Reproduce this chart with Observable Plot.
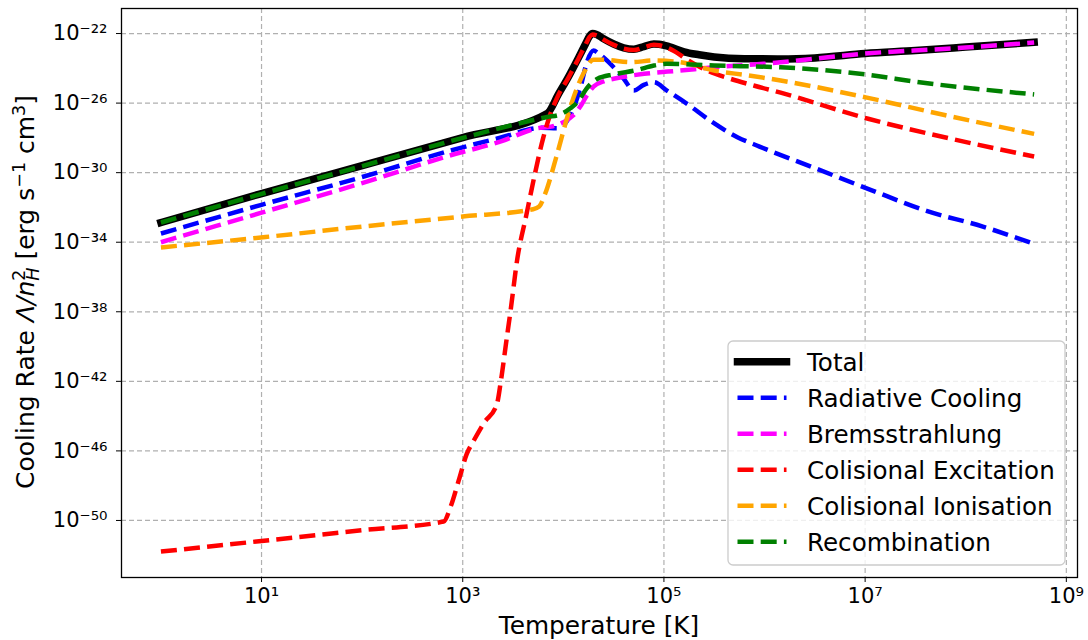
<!DOCTYPE html>
<html>
<head>
<meta charset="utf-8">
<script src="https://cdn.jsdelivr.net/npm/d3@7"></script>
<script src="https://cdn.jsdelivr.net/npm/@observablehq/plot@0.6"></script>
<style>
  html, body { margin: 0; padding: 0; background: #fff; }
  #chart { width: 1088px; height: 640px; }
</style>
</head>
<body>
<div id="chart"></div>
<script>
// ---- Data (log10 values) ----
const seriesNames = ["Total", "Radiative Cooling", "Bremsstrahlung", "Colisional Excitation", "Colisional Ionisation", "Recombination"];
const seriesColors = ["black", "#0000ff", "#ff00ff", "#ff0000", "#ffa500", "#008000"];

const totalLogT = [0, 1, 2, 3, 3.84, 3.95, 4.05, 4.15, 4.22, 4.26, 4.29, 4.33, 4.4, 4.5, 4.6, 4.7, 4.8, 4.9, 4.95, 5.05, 5.2, 5.35, 5.5, 5.8, 6.16, 6.5, 7, 7.5, 8, 8.68];
const totalLogL = [-32.87, -31.2, -29.6, -27.98, -26.6, -25.5, -24.5, -23.4, -22.6, -22.15, -22.0, -22.05, -22.3, -22.6, -22.82, -22.9, -22.75, -22.6, -22.62, -22.75, -23.05, -23.22, -23.35, -23.45, -23.46, -23.4, -23.15, -22.98, -22.78, -22.5];

const radiativeLogT = [0, 1, 2, 2.88, 3.38, 3.78, 3.94, 4.05, 4.12, 4.17, 4.24, 4.30, 4.36, 4.5, 4.6, 4.70, 4.8, 4.9, 5.03, 5.23, 5.47, 5.73, 5.95, 6.51, 7.06, 7.61, 8.17, 8.68];
const radiativeLogL = [-33.5, -31.85, -30.25, -28.73, -27.98, -27.42, -27.44, -26.9, -26.0, -25.09, -23.55, -22.98, -23.2, -23.94, -24.6, -25.28, -24.95, -24.8, -25.28, -26.04, -27.05, -27.96, -28.5, -29.76, -31.0, -32.2, -33.1, -34.1];

const bremsLogT = [0, 1, 2, 2.88, 3.38, 3.74, 3.88, 4.0, 4.1, 4.18, 4.24, 4.3, 4.4, 4.5, 4.83, 5.16, 5.5, 5.99, 6.16, 7, 7.85, 8.68];
const bremsLogL = [-34.0, -32.3, -30.6, -29.0, -28.2, -27.45, -27.35, -27.1, -26.7, -26.1, -25.5, -25.05, -24.75, -24.6, -24.3, -24.13, -23.94, -23.74, -23.65, -23.15, -22.86, -22.52];

const excitationLogT = [0, 1, 2, 2.81, 2.88, 2.96, 3.04, 3.11, 3.21, 3.34, 3.38, 3.43, 3.48, 3.54, 3.63, 3.72, 3.8, 3.85, 3.95, 4.05, 4.15, 4.22, 4.26, 4.29, 4.33, 4.4, 4.5, 4.6, 4.7, 4.8, 4.9, 4.95, 5.0, 5.1, 5.23, 5.43, 5.66, 5.9, 6.16, 7.03, 7.8, 8.68];
const excitationLogL = [-51.79, -51.18, -50.56, -50.06, -49.2, -47.7, -46.17, -45.4, -44.4, -43.3, -41.95, -39.84, -37.74, -35.05, -32.5, -30.0, -28.0, -27.0, -25.55, -24.55, -23.45, -22.65, -22.2, -22.05, -22.1, -22.35, -22.65, -22.87, -22.95, -22.8, -22.65, -22.67, -22.75, -23.0, -23.5, -24.13, -24.6, -25.0, -25.4, -26.9, -27.98, -29.07];

const ionisationLogT = [0, 1.04, 2, 3, 3.7, 3.76, 3.82, 3.93, 4.04, 4.1, 4.2, 4.3, 4.4, 4.67, 4.9, 5.16, 5.5, 5.83, 6.16, 7.03, 7.8, 8.68];
const ionisationLogL = [-34.3, -33.7, -33.1, -32.52, -32.1, -31.95, -31.2, -29.1, -26.8, -25.7, -24.3, -23.5, -23.5, -23.65, -23.55, -23.65, -24.13, -24.4, -24.7, -25.7, -26.7, -27.77];

const recombLogT = [0, 1, 2, 3, 3.84, 3.97, 4.07, 4.14, 4.24, 4.34, 4.5, 4.73, 4.9, 5.03, 5.5, 6.16, 7, 7.54, 8.68];
const recombLogL = [-32.87, -31.22, -29.62, -28.0, -26.8, -26.65, -26.3, -25.95, -25.1, -24.6, -24.35, -24.1, -23.84, -23.74, -23.84, -23.94, -24.35, -24.8, -25.5];

const xTicks = [1e1, 1e3, 1e5, 1e7, 1e9];
const yTicks = [1e-22, 1e-26, 1e-30, 1e-34, 1e-38, 1e-42, 1e-46, 1e-50];

// ---- Build ----
const toPoints = (lt, ll) => lt.map((t, i) => ({T: Math.pow(10, t), L: Math.pow(10, ll[i])}));
const seriesData = [
  toPoints(totalLogT, totalLogL),
  toPoints(radiativeLogT, radiativeLogL),
  toPoints(bremsLogT, bremsLogL),
  toPoints(excitationLogT, excitationLogL),
  toPoints(ionisationLogT, ionisationLogL),
  toPoints(recombLogT, recombLogL)
];

const supMap = {"-": "\u207B", "0": "\u2070", "1": "\u00B9", "2": "\u00B2", "3": "\u00B3", "4": "\u2074", "5": "\u2075", "6": "\u2076", "7": "\u2077", "8": "\u2078", "9": "\u2079"};
const fmt = v => "10" + String(Math.round(Math.log10(v))).split("").map(c => supMap[c]).join("");

const DASH = "16,7.2";
const lineMarks = seriesData.map((d, i) => Plot.line(d, {
  x: "T", y: "L",
  stroke: seriesColors[i],
  strokeWidth: i === 0 ? 7.5 : 4.5,
  strokeDasharray: i === 0 ? null : DASH,
  strokeLinecap: i === 0 ? "square" : "butt",
  strokeLinejoin: "round",
  curve: "monotone-x"
}));

const plot = Plot.plot({
  width: 1088, height: 640,
  marginLeft: 121, marginRight: 11, marginTop: 8, marginBottom: 63,
  style: {fontFamily: "'DejaVu Sans', sans-serif", fontSize: "21px", background: "white", color: "black", overflow: "visible"},
  x: {type: "log", domain: [Math.pow(10, -0.392), Math.pow(10, 9.111)]},
  y: {type: "log", domain: [Math.pow(10, -53.28), Math.pow(10, -20.56)]},
  marks: [
    Plot.gridX(xTicks, {stroke: "#b0b0b0", strokeOpacity: 1, strokeWidth: 1.2, strokeDasharray: "5,3"}),
    Plot.gridY(yTicks, {stroke: "#b0b0b0", strokeOpacity: 1, strokeWidth: 1.2, strokeDasharray: "5,3"}),
    ...lineMarks,
    Plot.frame({stroke: "black", strokeWidth: 1.3}),
    Plot.axisX(xTicks, {tickFormat: fmt, tickSize: 5, tickPadding: 6, label: null, fontSize: 21}),
    Plot.axisY(yTicks, {tickFormat: fmt, tickSize: 5, tickPadding: 9, label: null, fontSize: 21})
  ]
});

document.getElementById("chart").appendChild(plot);
const svg = d3.select(plot);

// x label
svg.append("text")
  .attr("x", 599).attr("y", 634)
  .attr("text-anchor", "middle")
  .attr("font-size", 24.8)
  .attr("fill", "black")
  .text("Temperature [K]");

// y label with sub/superscripts
const yl = svg.append("text")
  .attr("transform", "translate(34,292) rotate(-90)")
  .attr("text-anchor", "middle")
  .attr("font-size", 25)
  .attr("fill", "black");
yl.append("tspan").text("Cooling Rate ");
yl.append("tspan").attr("font-style", "italic").text("\u039B/n");
yl.append("tspan").attr("font-size", 17.5).attr("dy", -9).text("2");
yl.append("tspan").attr("font-size", 17.5).attr("font-style", "italic").attr("dx", -11.1).attr("dy", 14).text("H");
yl.append("tspan").attr("dy", -5).text(" [erg s");
yl.append("tspan").attr("font-size", 17.5).attr("dy", -9).text("\u22121");
yl.append("tspan").attr("dy", 9).text(" cm");
yl.append("tspan").attr("font-size", 17.5).attr("dy", -9).text("3");
yl.append("tspan").attr("dy", 9).text("]");

// legend
const lg = svg.append("g");
lg.append("rect")
  .attr("x", 728).attr("y", 341).attr("width", 337).attr("height", 224)
  .attr("rx", 5).attr("ry", 5)
  .attr("fill", "white").attr("fill-opacity", 0.8)
  .attr("stroke", "#cccccc").attr("stroke-width", 1.3);
seriesNames.forEach((name, i) => {
  const cy = 361.7 + i * 36;
  lg.append("line")
    .attr("x1", 737.5).attr("x2", 786.5).attr("y1", cy).attr("y2", cy)
    .attr("stroke", seriesColors[i])
    .attr("stroke-width", i === 0 ? 7.5 : 4.5)
    .attr("stroke-dasharray", i === 0 ? null : DASH)
    .attr("stroke-linecap", i === 0 ? "square" : "butt");
  lg.append("text")
    .attr("x", 807).attr("y", cy + 9)
    .attr("text-anchor", "start")
    .attr("font-size", 24.6)
    .attr("fill", "black")
    .text(name);
});
</script>
</body>
</html>
